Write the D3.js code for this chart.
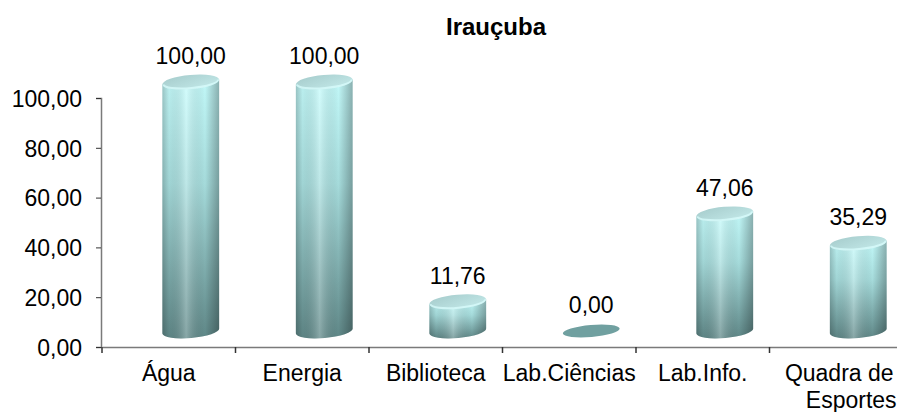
<!DOCTYPE html>
<html>
<head>
<meta charset="utf-8">
<script src="https://cdn.jsdelivr.net/npm/d3@7"></script>
<style>
    body { margin: 0; background: #fff; }
    text { font-family: "Liberation Sans", Arial, sans-serif; fill: #000; }
</style>
</head>
<body>
<div id="chart"></div>
<script>
// data
const categories = ["Água", "Energia", "Biblioteca", "Lab.Ciências", "Lab.Info.", "Quadra de Esportes"];
const values = [100.00, 100.00, 11.76, 0.00, 47.06, 35.29];
const yTicks = [0, 20, 40, 60, 80, 100];
const chartTitle = "Irauçuba";

const width = 897;
const height = 412;

// numbers like 47,06
const fmt = v => d3.format(".2f")(v).replace(".", ",");

const svg = d3.select("#chart")
    .append("svg")
    .attr("width", width)
    .attr("height", height);

const x = d3.scaleBand()
    .domain(categories)
    .range([102, 903]);

const y = d3.scaleLinear()
    .domain([0, 100])
    .range([347, 98]);

// gradients for the cylinders
const defs = svg.append("defs");

const bodyGrad = defs.append("linearGradient")
    .attr("id", "bodyGrad")
    .attr("x1", 0).attr("y1", 0).attr("x2", 0).attr("y2", 1);
bodyGrad.append("stop").attr("offset", "0%").attr("stop-color", "#c6fdfd");
bodyGrad.append("stop").attr("offset", "40%").attr("stop-color", "#a9e0e0");
bodyGrad.append("stop").attr("offset", "100%").attr("stop-color", "#618a8a");

const shadeGrad = defs.append("linearGradient")
    .attr("id", "shadeGrad")
    .attr("x1", 0).attr("y1", 0).attr("x2", 1).attr("y2", 0);
shadeGrad.append("stop").attr("offset", "0%").attr("stop-color", "#000").attr("stop-opacity", 0.22);
shadeGrad.append("stop").attr("offset", "12%").attr("stop-color", "#000").attr("stop-opacity", 0.05);
shadeGrad.append("stop").attr("offset", "42%").attr("stop-color", "#fff").attr("stop-opacity", 0.25);
shadeGrad.append("stop").attr("offset", "75%").attr("stop-color", "#000").attr("stop-opacity", 0.02);
shadeGrad.append("stop").attr("offset", "100%").attr("stop-color", "#000").attr("stop-opacity", 0.3);

const topGrad = defs.append("linearGradient")
    .attr("id", "topGrad")
    .attr("x1", 0).attr("y1", 0).attr("x2", 1).attr("y2", 1);
topGrad.append("stop").attr("offset", "0%").attr("stop-color", "#a6cccc");
topGrad.append("stop").attr("offset", "100%").attr("stop-color", "#c4eaea");

// title
svg.append("text")
    .attr("x", 496)
    .attr("y", 35)
    .attr("text-anchor", "middle")
    .style("font-size", "24px")
    .style("font-weight", "bold")
    .text(chartTitle);

// y axis
const yAxis = svg.append("g")
    .attr("transform", "translate(101,0)")
    .call(d3.axisLeft(y).tickValues(yTicks).tickFormat(fmt).tickSize(5).tickPadding(14));
yAxis.select(".domain").attr("stroke", "#7a7a7a").attr("stroke-width", 1.5);
yAxis.selectAll(".tick line").attr("stroke", "#333");
yAxis.selectAll("text").style("font-size", "23px").attr("dy", "0.36em");

// x axis, ticks sit between the categories
const xAxis = svg.append("g")
    .attr("transform", "translate(0," + y(0) + ")")
    .call(d3.axisBottom(x).tickSize(0).tickPadding(0).tickFormat(""));
xAxis.select(".domain").attr("stroke", "#7a7a7a").attr("stroke-width", 1.5);

const bounds = categories.map(c => x(c)).concat([x.range()[1]]);
xAxis.selectAll(".bound")
    .data(bounds)
    .enter()
    .append("line")
    .attr("class", "bound")
    .attr("x1", d => d).attr("x2", d => d)
    .attr("y1", 0).attr("y2", 6)
    .attr("stroke", "#333")
    .attr("stroke-width", 1.5);

// category labels, last one wraps into two lines
categories.forEach(c => {
    const cx = x(c) + x.bandwidth() / 2;
    const t = svg.append("text")
        .attr("text-anchor", "middle")
        .style("font-size", "23px");
    if (c === "Quadra de Esportes") {
        t.append("tspan").attr("x", cx + 3).attr("y", 381).text("Quadra de");
        t.append("tspan").attr("x", cx + 15).attr("y", 408).text("Esportes");
    } else {
        t.attr("x", cx).attr("y", 381).text(c);
    }
});

// cylinders, shifted right and up for the 3d depth
const depthX = 22;
const depthY = 16;
const rx = 28.5;
const ry = 7;
const tilt = -5;
const dx = rx * Math.cos(tilt * Math.PI / 180);
const dy = rx * Math.sin(tilt * Math.PI / 180);

const bars = svg.selectAll(".cyl")
    .data(values.map((v, i) => ({ cat: categories[i], value: v })))
    .enter()
    .append("g")
    .attr("class", "cyl");

bars.each(function (d) {
    const g = d3.select(this);
    const cx = x(d.cat) + x.bandwidth() / 2 + depthX;
    const yb = y(0) - depthY;
    const yt = y(d.value) - depthY;

    if (d.value === 0) {
        // flat disk
        g.append("ellipse")
            .attr("cx", cx).attr("cy", yb)
            .attr("rx", rx).attr("ry", ry - 1)
            .attr("transform", "rotate(" + tilt + "," + cx + "," + yb + ")")
            .attr("fill", "#70a0a0");
        return;
    }

    const body = "M" + (cx - dx) + "," + (yb - dy) +
        "L" + (cx - dx) + "," + (yt - dy) +
        "L" + (cx + dx) + "," + (yt + dy) +
        "L" + (cx + dx) + "," + (yb + dy) +
        "A" + rx + "," + ry + " " + tilt + " 0 1 " + (cx - dx) + "," + (yb - dy) + "Z";

    g.append("path").attr("d", body).attr("fill", "url(#bodyGrad)");
    g.append("path").attr("d", body).attr("fill", "url(#shadeGrad)");

    // cap and its lighter front rim
    g.append("ellipse")
        .attr("cx", cx).attr("cy", yt)
        .attr("rx", rx).attr("ry", ry)
        .attr("transform", "rotate(" + tilt + "," + cx + "," + yt + ")")
        .attr("fill", "url(#topGrad)");
    g.append("path")
        .attr("d", "M" + (cx - dx + 1) + "," + (yt - dy) +
            "A" + (rx - 1) + "," + (ry - 1) + " " + tilt + " 0 0 " + (cx + dx - 1) + "," + (yt + dy))
        .attr("fill", "none")
        .attr("stroke", "#dcffff")
        .attr("stroke-width", 2)
        .attr("stroke-opacity", 0.7);
});

// value labels above each cylinder
bars.append("text")
    .attr("x", d => x(d.cat) + x.bandwidth() / 2 + depthX)
    .attr("y", d => y(d.value) - 34)
    .attr("text-anchor", "middle")
    .style("font-size", "23px")
    .text(d => fmt(d.value));
</script>
</body>
</html>
